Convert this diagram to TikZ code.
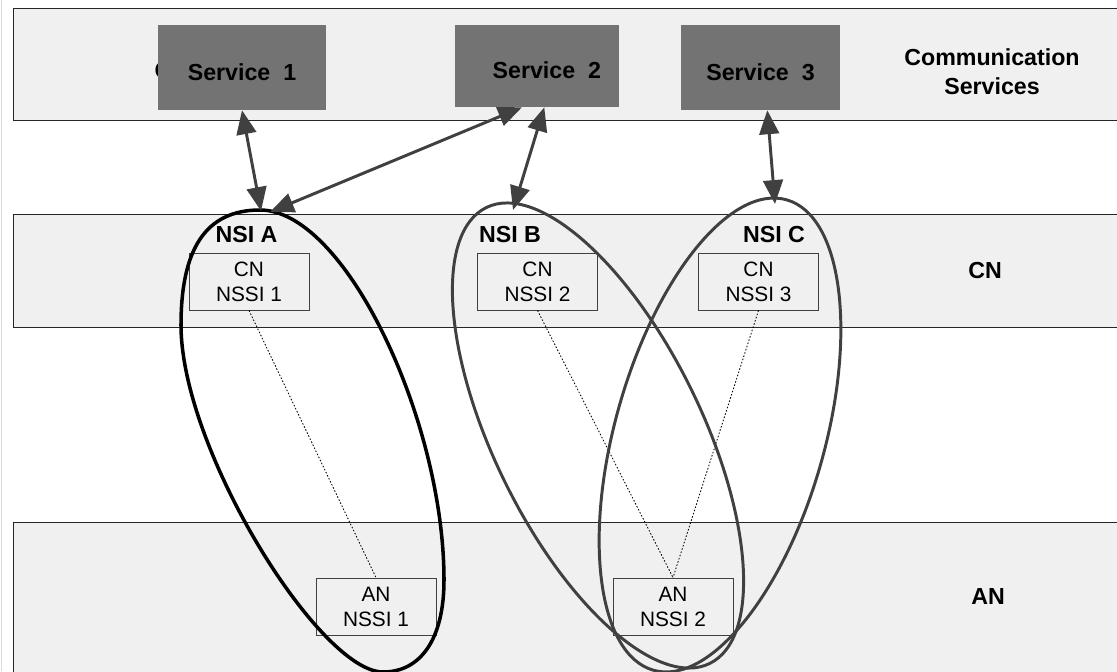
\documentclass[tikz,border=0pt]{standalone}
\usepackage{fontspec}
\setmainfont{Liberation Sans}
\usepackage{xcolor}
\usetikzlibrary{arrows.meta}

\definecolor{bandgray}{HTML}{F0F0F0}
\definecolor{servgray}{HTML}{737373}
\definecolor{linegray}{HTML}{404040}
\definecolor{edgegray}{HTML}{DADAE4}

\tikzset{
	bandbox/.style={draw=black!85, line width=0.7pt, fill=bandgray},
	servicebox/.style={fill=servgray, inner sep=0pt, font=\fontsize{16.5}{20}\selectfont\bfseries},
	nssibox/.style={draw=linegray, line width=0.6pt, fill=bandgray, minimum width=3cm, minimum height=1.425cm, inner sep=0pt, align=center, font=\fontsize{14.8}{17.7}\selectfont},
	bandlabel/.style={align=center, font=\fontsize{16.5}{20.5}\selectfont\bfseries},
	svcarrow/.style={linegray, line width=2.1pt, {Triangle[length=17pt,width=14pt]}-{Triangle[length=17pt,width=14pt]}},
	sliceline/.style={linegray, line width=2.1pt},
	mapline/.style={dash pattern=on 1.1pt off 1.3pt, line width=0.6pt}
}

\begin{document}
\begin{tikzpicture}[x=0.025cm, y=-0.025cm]
	\useasboundingbox (0,0) rectangle (1117,671);
	
	%Bands
	\draw[edgegray, line width=1.4pt] (1.5,0) -- (1.5,671);
	\draw[bandbox] (13,8) rectangle (1135,120);
	\draw[bandbox] (13,214) rectangle (1135,327);
	\draw[bandbox] (13,522) rectangle (1135,690);
	
	%Services
	\node[bandlabel] (hidc) at (163,71) {C};
	\node[servicebox, minimum width=4.2cm, minimum height=2.125cm] (s1) at (242,67.5) {\raisebox{-3.2pt}[\height][0pt]{Service\ \ 1}};
	\node[servicebox, minimum width=4.1cm, minimum height=2.05cm] (s2) at (537,66) {\hspace{14pt}\raisebox{-3.2pt}[\height][0pt]{Service\ \ 2}};
	\node[servicebox, minimum width=3.975cm, minimum height=2.125cm] (s3) at (760.5,67.5) {\raisebox{-3.2pt}[\height][0pt]{Service\ \ 3}};
	\node[bandlabel] (cs) at (992,72) {Communication\\Services};
	
	%CN level
	\node[nssibox] (cn1) at (249,281.5) {CN\\NSSI 1};
	\node[nssibox] (cn2) at (537.5,281.5) {CN\\NSSI 2};
	\node[nssibox] (cn3) at (758.5,281.5) {CN\\NSSI 3};
	\node[bandlabel] (cnl) at (985,271) {CN};
	
	%AN level
	\node[nssibox] (an1) at (376,606.5) {AN\\NSSI 1};
	\node[nssibox] (an2) at (673,606.5) {AN\\NSSI 2};
	\node[bandlabel] (anl) at (988,597) {AN};
	
	%Slice names
	\node[bandlabel] (nsia) at (246.5,234.5) {NSI A};
	\node[bandlabel] (nsib) at (510,234.5) {NSI B};
	\node[bandlabel] (nsic) at (774,234.5) {NSI C};
	
	%Dotted lines
	\draw[mapline] (cn1.south) -- (an1.north);
	\draw[mapline] (cn2.south) -- (an2.north);
	\draw[mapline] (cn3.south) -- (an2.north);
	
	%Slices
	\draw[black, line width=2.5pt] (260,210) .. controls (345,210) and (444,420) .. (444,580)
		.. controls (444,640) and (420,672) .. (383,672)
		.. controls (320,672) and (181,450) .. (181,325)
		.. controls (181,250) and (205,210) .. cycle;
	\draw[sliceline, rotate around={26.1:(598,435.5)}] (598,435.5) ellipse [x radius=2.6cm, y radius=6.345cm];
	\draw[sliceline, rotate around={-15.8:(720,435)}] (720,435) ellipse [x radius=2.62cm, y radius=6.11cm];
	
	%Arrows
	\coordinate (topa) at (261,211);
	\coordinate (topar) at (270,212);
	\coordinate (topb) at (513,210);
	\coordinate (topc) at (775,204);
	\draw[svcarrow] (s1.south) -- (topa);
	\draw[svcarrow] (s2.250) -- (topar);
	\draw[svcarrow] (s2.280) -- (topb);
	\draw[svcarrow] (s3.279) -- (topc);
\end{tikzpicture}
\end{document}
